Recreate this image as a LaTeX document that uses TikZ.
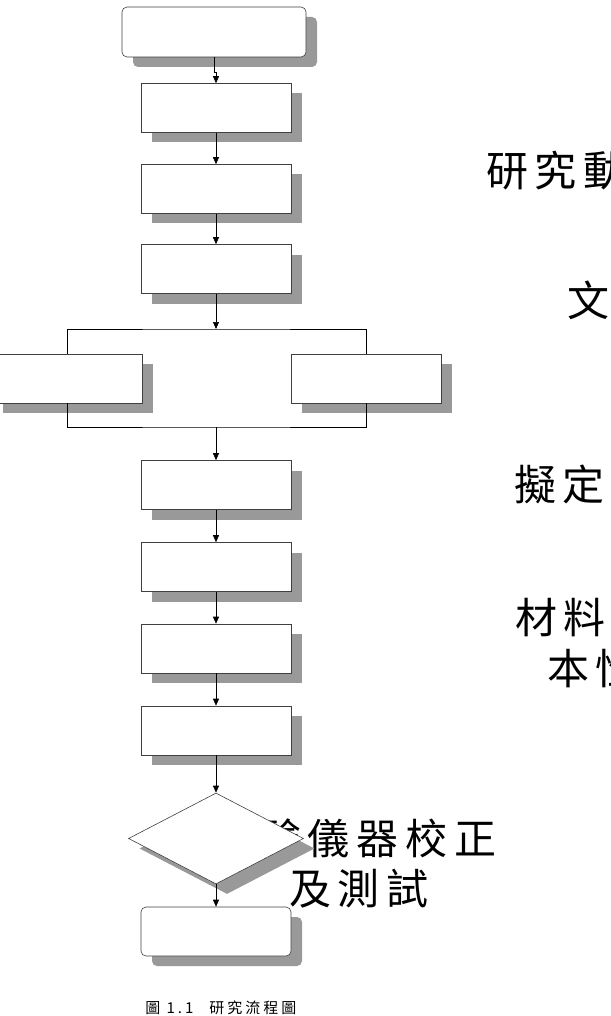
\documentclass[tikz,border=0pt]{standalone}
\usepackage{fontspec}
\newfontfamily\cjkfont[LetterSpace=16]{Noto Sans CJK TC}
\newfontfamily\capfont[LetterSpace=20]{Noto Sans CJK TC}
\usetikzlibrary{shapes.geometric, shadows, arrows.meta}

\begin{document}
\begin{tikzpicture}[x=1pt, y=-1pt, line width=0.6pt,
    box/.style={draw=black!75, fill=white, minimum width=150, minimum height=49, inner sep=0pt,
      drop shadow={shadow xshift=11pt, shadow yshift=-10pt, fill=black!40, opacity=1}},
    rbox/.style={box, rounded corners=5pt},
    dbox/.style={box, diamond, minimum width=175, minimum height=91},
    big/.style={font=\cjkfont\fontsize{42}{51}\selectfont, inner sep=0pt, anchor=west},
    link/.style={draw=black, -{Triangle[length=7pt, width=6pt]}}]
  \useasboundingbox (0,0) rectangle (610,1016);
  % ---- texts on the right --------------------------------------------------
  \node[big] (mot) at (486,171) {研究動};
  \node[big] (lit) at (567,300) {文};
  \node[big] (plan) at (514,484) {擬定};
  \node[big] (mat1) at (515,618) {材料};
  \node[big] (mat2) at (547,669) {本性};
  \node[big] (cal1) at (259,838) {驗儀器校正};
  \node[big] (cal2) at (289,889) {及測試};
  % ---- main column ---------------------------------------------------------
  \node[rbox, minimum width=184, minimum height=50] (start) at (214,32) {};
  \foreach \n/\y in {s2/108, s3/189, s4/269, s5/485, s6/567, s7/648.5, s8/730.5} {
    \node[box] (\n) at (216,\y) {};}
  \node[box] (lsb) at (67,378.5) {};
  \node[box] (rsb) at (366,378.5) {};
  \node[dbox] (check) at (216,838.5) {};
  \node[rbox] (finish) at (216,931.5) {};
  % ---- connectors ----------------------------------------------------------
  \coordinate (split) at (216,329);
  \coordinate (join) at (216,427);
  \draw[link] (start.south) -- ++(0,15) -| (s2.north);
  \foreach \a/\b in {s2/s3, s3/s4, s5/s6, s6/s7, s7/s8, s8/check, check/finish} {
    \draw[link] (\a.south) -- (\b.north);}
  \draw[link] (s4.south) -- (split);
  \draw (lsb.north) |- (split) -| (rsb.north);
  \draw (lsb.south) |- (join) -| (rsb.south);
  \draw[link] (join) -- (s5.north);
  % ---- caption -------------------------------------------------------------
  \node[font=\capfont\fontsize{15}{15}\selectfont, inner sep=0pt, anchor=west] (cap) at (145,1008)
    {圖 1.1\hspace{16pt}研究流程圖};
\end{tikzpicture}
\end{document}
